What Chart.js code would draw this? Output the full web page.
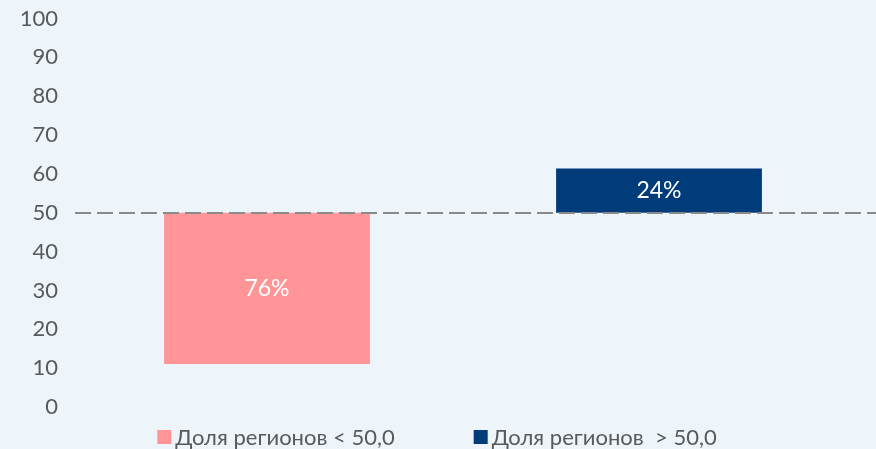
<!DOCTYPE html>
<html><head><meta charset="utf-8">
<script src="https://cdn.jsdelivr.net/npm/chart.js@4/dist/chart.umd.min.js"></script>
<style>html,body{margin:0;padding:0;background:#EDF5FB;overflow:hidden}#wrap{position:relative;width:876px;height:449px}</style>
</head><body><div id="wrap"><canvas id="c"></canvas></div>
<script>
const categories = ['Доля регионов < 50,0', 'Доля регионов  > 50,0'];
const lowRange = [11.1, 50];
const highRange = [50, 61.4];
const shareLabels = ['76%', '24%'];
const threshold = 50;
const yMin = 0, yMax = 100, yStep = 10;
const colors = ['#FF9597', '#003B7A'];
const FONT = 'Lato';
const TEXT = '#595959';

const thresholdLine = {
  id: 'thresholdLine',
  afterDatasetsDraw(chart) {
    const {ctx, chartArea, scales} = chart;
    const y = Math.round(scales.y.getPixelForValue(threshold));
    ctx.save();
    ctx.strokeStyle = '#8A8A8A';
    ctx.lineWidth = 2;
    ctx.setLineDash([16, 6]);
    ctx.beginPath();
    ctx.moveTo(chartArea.left + 4, y);
    ctx.lineTo(chart.width, y);
    ctx.stroke();
    ctx.restore();
  }
};

const barLabels = {
  id: 'barLabels',
  afterDraw(chart) {
    const {ctx} = chart;
    ctx.save();
    ctx.fillStyle = '#FFFFFF';
    ctx.font = '23px ' + FONT;
    ctx.textAlign = 'center';
    ctx.textBaseline = 'middle';
    chart.data.datasets.forEach((ds, di) => {
      const meta = chart.getDatasetMeta(di);
      meta.data.forEach((el, i) => {
        if (ds.data[i] == null) return;
        const p = el.getProps(['x', 'y', 'base'], true);
        ctx.fillText(ds.shareText, p.x, (p.y + p.base) / 2);
      });
    });
    ctx.restore();
  }
};

const bottomLegend = {
  id: 'bottomLegend',
  afterDraw(chart) {
    const {ctx} = chart;
    ctx.save();
    ctx.font = '22px ' + FONT;
    ctx.textBaseline = 'middle';
    const box = 14, gapText = 4, gapItem = 79;
    const widths = chart.data.datasets.map(ds => box + gapText + ctx.measureText(ds.label).width);
    const total = widths.reduce((a, b) => a + b, 0) + gapItem;
    let x = 437 - total / 2;
    const cy = 437;
    chart.data.datasets.forEach((ds, i) => {
      ctx.fillStyle = ds.backgroundColor;
      ctx.fillRect(x, cy - box / 2, box, box);
      ctx.fillStyle = TEXT;
      ctx.fillText(ds.label, x + box + gapText, cy + 1);
      x += widths[i] + gapItem;
    });
    ctx.restore();
  }
};

new Chart(document.getElementById('c'), {
  type: 'bar',
  data: {
    labels: ['', ''],
    datasets: [
      {label: categories[0], data: [lowRange, null], backgroundColor: colors[0], shareText: shareLabels[0]},
      {label: categories[1], data: [null, highRange], backgroundColor: colors[1], shareText: shareLabels[1]}
    ]
  },
  options: {
    responsive: true,
    maintainAspectRatio: false,
    animation: false,
    grouped: false,
    categoryPercentage: 1,
    barPercentage: 0.525,
    layout: {padding: {top: 18.5, bottom: 42, right: 21, left: 0}},
    plugins: {legend: {display: false}, tooltip: {enabled: false}},
    scales: {
      x: {display: false},
      y: {
        min: yMin, max: yMax,
        afterFit(s) { s.width = 71; s.paddingTop = 0; s.paddingBottom = 0; },
        grid: {display: false, drawTicks: false},
        border: {display: false},
        ticks: {stepSize: yStep, padding: 13, color: TEXT, font: {family: FONT, size: 22}}
      }
    }
  },
  plugins: [thresholdLine, barLabels, bottomLegend]
});
</script></body></html>
